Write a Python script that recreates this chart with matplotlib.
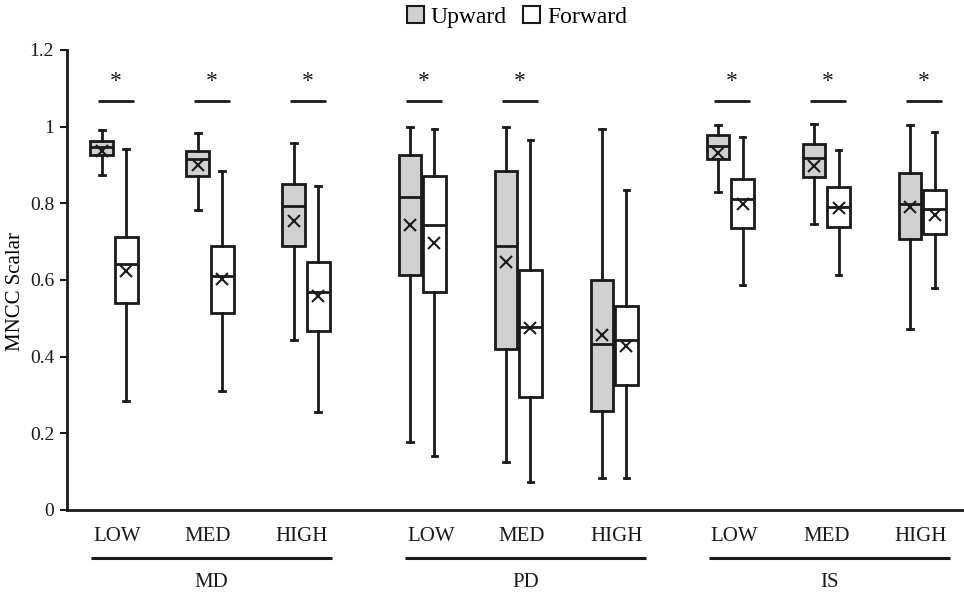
import matplotlib
matplotlib.use("Agg")
import matplotlib.pyplot as plt
from matplotlib.patches import Patch

plt.rcParams['font.family'] = ['Liberation Serif', 'DejaVu Serif']

levels = ["LOW", "MED", "HIGH"]
groups = ["MD", "PD", "IS"]
series = ["Upward", "Forward"]

# per box: order MD-LOW, MD-MED, MD-HIGH, PD-LOW, PD-MED, PD-HIGH, IS-LOW, IS-MED, IS-HIGH
up_whislo = [0.874, 0.783, 0.444, 0.177, 0.126, 0.083, 0.829, 0.746, 0.471]
up_q1     = [0.925, 0.871, 0.690, 0.612, 0.420, 0.259, 0.915, 0.868, 0.706]
up_med    = [0.948, 0.916, 0.794, 0.817, 0.690, 0.433, 0.950, 0.919, 0.798]
up_q3     = [0.962, 0.936, 0.851, 0.927, 0.885, 0.600, 0.977, 0.955, 0.879]
up_whishi = [0.990, 0.984, 0.957, 0.998, 1.000, 0.993, 1.004, 1.007, 1.005]
up_mean   = [0.937, 0.899, 0.753, 0.744, 0.648, 0.456, 0.932, 0.897, 0.790]

fw_whislo = [0.284, 0.310, 0.255, 0.142, 0.074, 0.084, 0.588, 0.612, 0.578]
fw_q1     = [0.541, 0.515, 0.468, 0.570, 0.294, 0.325, 0.736, 0.738, 0.720]
fw_med    = [0.642, 0.610, 0.570, 0.744, 0.477, 0.444, 0.812, 0.790, 0.785]
fw_q3     = [0.713, 0.689, 0.648, 0.870, 0.625, 0.531, 0.864, 0.842, 0.835]
fw_whishi = [0.943, 0.885, 0.844, 0.995, 0.964, 0.835, 0.972, 0.939, 0.986]
fw_mean   = [0.624, 0.602, 0.557, 0.696, 0.474, 0.428, 0.798, 0.787, 0.770]

significant = [True, True, True, True, True, False, True, True, True]

yticks = [0, 0.2, 0.4, 0.6, 0.8, 1.0, 1.2]
ytick_labels = ["0", "0.2", "0.4", "0.6", "0.8", "1", "1.2"]

# layout (positions in axis units)
centers = [0.0, 1.0, 2.0, 3.21, 4.21, 5.21, 6.42, 7.42, 8.42]
label_pos = [0.03, 0.98, 1.955, 3.30, 4.25, 5.235, 6.46, 7.42, 8.40]
group_lines = [(-0.243, 2.268), (3.031, 5.542), (6.198, 8.708)]
off = 0.128
width = 0.236

fig = plt.figure(figsize=(9.64, 5.94), dpi=100)
ax = fig.add_axes([66.7 / 964, 1 - 510 / 594, (963 - 66.7) / 964, (510 - 50) / 594])

def stats(lo, q1, med, q3, hi, mean):
    return [dict(whislo=a, q1=b, med=c, q3=d, whishi=e, mean=f, fliers=[])
            for a, b, c, d, e, f in zip(lo, q1, med, q3, hi, mean)]

ec = "#1a1a1a"
common = dict(widths=width, showmeans=True, patch_artist=True, showfliers=False,
              whiskerprops=dict(color=ec, lw=2.0),
              capprops=dict(color=ec, lw=2.0),
              medianprops=dict(color=ec, lw=2.0),
              meanprops=dict(marker='x', markeredgecolor=ec, markersize=8, markeredgewidth=1.5),
              capwidths=0.06, manage_ticks=False, zorder=3)

bu = ax.bxp(stats(up_whislo, up_q1, up_med, up_q3, up_whishi, up_mean),
            positions=[c - off for c in centers],
            boxprops=dict(facecolor="#d0d0d0", edgecolor=ec, lw=2.0), **common)
bf = ax.bxp(stats(fw_whislo, fw_q1, fw_med, fw_q3, fw_whishi, fw_mean),
            positions=[c + off for c in centers],
            boxprops=dict(facecolor="white", edgecolor=ec, lw=2.0), **common)

for c, s in zip(centers, significant):
    if s:
        ax.plot([c + 0.02 - 0.185, c + 0.02 + 0.185], [1.067, 1.067], color=ec, lw=2.0,
                solid_capstyle='butt', zorder=3)
        ax.text(c + 0.02, 1.117, "*", ha="center", va="center", fontsize=17, color=ec)

ax.set_xlim(-0.4927, 8.844)
ax.set_ylim(0, 1.2)
ax.set_yticks(yticks)
ax.set_yticklabels(ytick_labels, fontsize=14)
ax.tick_params(axis='y', direction='out', length=5, width=1.5, colors=ec, pad=4)
ax.set_xticks(label_pos)
ax.set_xticklabels(levels * 3, fontsize=15)
ax.tick_params(axis='x', length=0, pad=12, colors=ec)
for sp in ["top", "right"]:
    ax.spines[sp].set_visible(False)
for sp in ["left", "bottom"]:
    ax.spines[sp].set_linewidth(2.0)
    ax.spines[sp].set_color(ec)

ax.set_ylabel("MNCC Scalar", fontsize=15)
ax.yaxis.set_label_coords(-0.0465, 0.476)

# group lines and labels below tick labels
for (x0, x1), g in zip(group_lines, groups):
    ax.plot([x0, x1], [-0.125, -0.125], color=ec, lw=2.2, clip_on=False,
            solid_capstyle='butt')
    ax.text((x0 + x1) / 2, -0.19, g, ha="center", va="center", fontsize=15, color=ec)

handles = [Patch(facecolor="#d0d0d0", edgecolor=ec, lw=1.5, label=series[0]),
           Patch(facecolor="white", edgecolor=ec, lw=1.5, label=series[1])]
fig.legend(handles=handles, loc="center", bbox_to_anchor=(517 / 964, 1 - 17 / 594),
           ncol=2, frameon=False, fontsize=17, handlelength=0.72, handleheight=0.72,
           handletextpad=0.3, columnspacing=0.7, borderpad=0)

fig.savefig("out.png", dpi=100)
